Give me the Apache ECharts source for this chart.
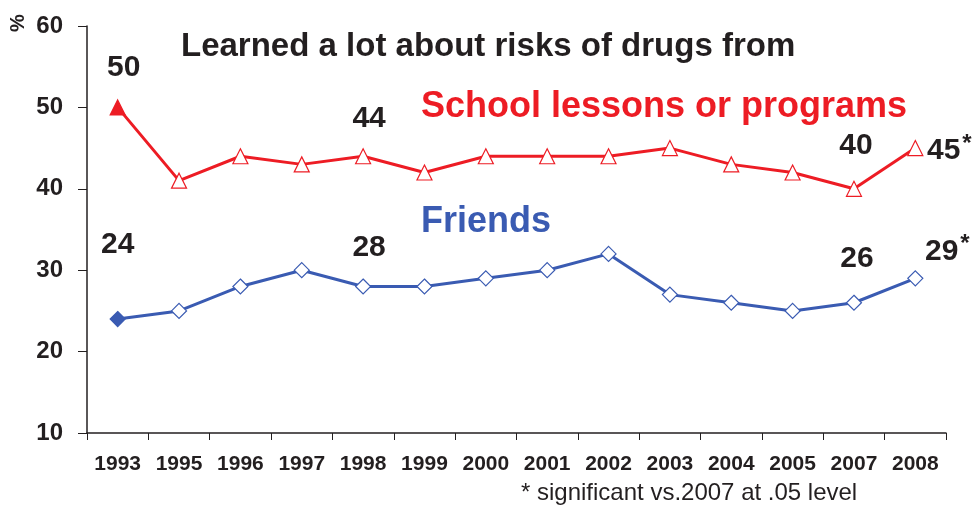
<!DOCTYPE html>
<html>
<head>
<meta charset="utf-8">
<script src="https://cdn.jsdelivr.net/npm/echarts@6/dist/echarts.min.js"></script>
<style>
  html, body { margin: 0; padding: 0; background: #fff; }
  #chart { width: 980px; height: 506px; }
</style>
</head>
<body>
<div id="chart"></div>
<script>
var years = ['1993', '1995', '1996', '1997', '1998', '1999', '2000', '2001', '2002', '2003', '2004', '2005', '2007', '2008'];
var school = [50, 41, 44, 43, 44, 42, 44, 44, 44, 45, 43, 42, 40, 45];
var friends = [24, 25, 28, 30, 28, 28, 29, 30, 32, 27, 26, 25, 26, 29];
// which points get a number written next to them, and which are starred
var schoolLabeled = [0, 4, 12, 13];
var friendsLabeled = [0, 4, 12, 13];
var starred = [13];

var RED = '#ed1c24';
var BLUE = '#3a5bb2';
var FONT = '"Liberation Sans", Arial, sans-serif';

// offsets of the value labels from the point centre
var schoolOffsets = { 0: [6, -40], 4: [6, -38], 12: [2, -43], 13: [34, 3] };
var friendsOffsets = { 0: [0, -74], 4: [6, -39], 12: [3, -44], 13: [32, -27] };

function buildData(values, labeled, offsets, color) {
  return values.map(function (v, i) {
    var item = { value: v };
    if (i === 0) {
      item.itemStyle = { color: color };
    }
    if (labeled.indexOf(i) >= 0) {
      var star = starred.indexOf(i) >= 0;
      item.label = {
        show: true,
        position: 'inside',
        offset: offsets[i],
        formatter: star ? '{n|{c}}{s|*}' : '{n|{c}}',
        rich: {
          n: { fontSize: 30, fontWeight: 'bold', color: '#231f20', fontFamily: FONT },
          s: { fontSize: 24, fontWeight: 'bold', color: '#231f20', fontFamily: FONT, verticalAlign: 'top', padding: [0, 0, 14, 2] }
        }
      };
    }
    return item;
  });
}

var chart = echarts.init(document.getElementById('chart'));
chart.setOption({
  animation: false,
  backgroundColor: '#fff',
  grid: { left: 87, right: 34, top: 26, bottom: 73 },
  xAxis: {
    type: 'category',
    data: years,
    boundaryGap: true,
    axisLine: { lineStyle: { color: '#231f20', width: 1.5 } },
    axisTick: { show: true, length: 7, lineStyle: { color: '#231f20' } },
    axisLabel: { fontSize: 21, fontWeight: 'bold', color: '#231f20', fontFamily: FONT, margin: 21, interval: 0 }
  },
  yAxis: {
    type: 'value',
    min: 10, max: 60, interval: 10,
    splitLine: { show: false },
    axisLine: { show: true, lineStyle: { color: '#231f20', width: 1.5 } },
    axisTick: { show: true, length: 9, lineStyle: { color: '#231f20' } },
    axisLabel: { fontSize: 24, fontWeight: 'bold', color: '#231f20', fontFamily: FONT, margin: 24 }
  },
  title: [
    { text: 'Learned a lot about risks of drugs from', left: 176, top: 25,
      textStyle: { fontSize: 33, fontWeight: 'bold', color: '#231f20', fontFamily: FONT } },
    { text: 'School lessons or programs', left: 416, top: 84,
      textStyle: { fontSize: 36, fontWeight: 'bold', color: RED, fontFamily: FONT } },
    { text: 'Friends', left: 416, top: 199,
      textStyle: { fontSize: 36, fontWeight: 'bold', color: BLUE, fontFamily: FONT } },
    { text: '* significant vs.2007 at .05 level', left: 516, top: 476,
      textStyle: { fontSize: 24, fontWeight: 'normal', color: '#231f20', fontFamily: FONT } }
  ],
  graphic: [
    { type: 'text', x: 8, y: 32, rotation: Math.PI / 2,
      style: { text: '%', fill: '#231f20', font: 'bold 20px ' + FONT } }
  ],
  series: [
    {
      type: 'line',
      data: buildData(school, schoolLabeled, schoolOffsets, RED),
      symbol: 'triangle',
      symbolSize: 15,
      showAllSymbol: true,
      lineStyle: { color: RED, width: 3 },
      itemStyle: { color: '#fff', borderColor: RED, borderWidth: 1.2 },
      z: 3
    },
    {
      type: 'line',
      data: buildData(friends, friendsLabeled, friendsOffsets, BLUE),
      symbol: 'diamond',
      symbolSize: 15,
      showAllSymbol: true,
      lineStyle: { color: BLUE, width: 3 },
      itemStyle: { color: '#fff', borderColor: BLUE, borderWidth: 1.2 },
      z: 3
    }
  ]
});
</script>
</body>
</html>
